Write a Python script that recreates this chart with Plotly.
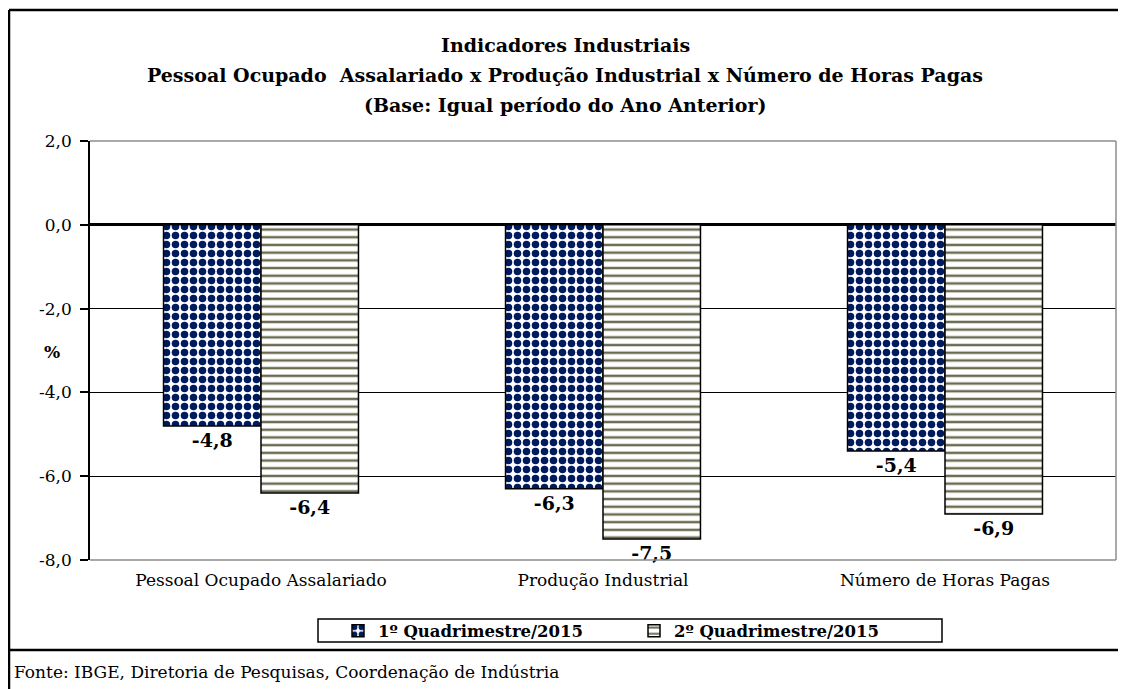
import plotly.graph_objects as go

CATEGORIES = ["Pessoal Ocupado Assalariado", "Produção Industrial", "Número de Horas Pagas"]
SERIES_NAMES = ["1º Quadrimestre/2015", "2º Quadrimestre/2015"]
Q1_VALUES = [-4.8, -6.3, -5.4]
Q2_VALUES = [-6.4, -7.5, -6.9]
Y_TICK_VALUES = [2, 0, -2, -4, -6, -8]
Y_TICK_LABELS = ["2,0", "0,0", "-2,0", "-4,0", "-6,0", "-8,0"]
TITLE_LINES = [
    "Indicadores Industriais",
    "Pessoal Ocupado  Assalariado x Produção Industrial x Número de Horas Pagas",
    "(Base: Igual período do Ano Anterior)",
]
Y_TITLE = "%"
SOURCE = "Fonte: IBGE, Diretoria de Pesquisas, Coordenação de Indústria"

SERIF = "DejaVu Serif"

# The page has an 8px body margin: page coords = figure coords + 8
OFF = 8
W, H = 1126 - OFF, 689 - OFF
# plot area in page coords
PL, PR, PT, PB = 90, 1116, 141, 560


def px(x):
    return (x - PL) / (PR - PL)


def py(y):
    return (PB - y) / (PB - PT)


def fmt(v):
    return f"{v:.1f}".replace(".", ",")


label_font = dict(family=SERIF, size=19, color="black", weight="bold")

fig = go.Figure()
fig.add_trace(go.Bar(
    x=CATEGORIES, y=Q1_VALUES, name=SERIES_NAMES[0],
    marker=dict(color="white", line=dict(color="black", width=1.5),
                pattern=dict(shape=".", fgcolor="#001a5e", bgcolor="white",
                             size=9, solidity=0.55, fillmode="replace")),
    text=[fmt(v) for v in Q1_VALUES], textposition="outside",
    textfont=label_font, cliponaxis=False,
))
fig.add_trace(go.Bar(
    x=CATEGORIES, y=Q2_VALUES, name=SERIES_NAMES[1],
    marker=dict(color="white", line=dict(color="black", width=1.5),
                pattern=dict(shape="-", fgcolor="#6b6b52", bgcolor="white",
                             size=7.7, solidity=0.32, fillmode="replace")),
    text=[fmt(v) for v in Q2_VALUES], textposition="outside",
    textfont=label_font, cliponaxis=False,
))

shapes = []
grey = "#8c8c8c"
# plot-area border (top, right, bottom)
for x0, y0, x1, y1 in [(0, 1, 1, 1), (1, 1, 1, 0), (0, 0, 1, 0)]:
    shapes.append(dict(type="line", xref="paper", yref="paper", x0=x0, y0=y0, x1=x1, y1=y1,
                       line=dict(color=grey, width=1.5), layer="above"))
# outer frame
frame = dict(color="black", width=2.5)
shapes.append(dict(type="line", xref="paper", yref="paper", x0=px(9), x1=px(1140), y0=py(10), y1=py(10), line=frame))
shapes.append(dict(type="line", xref="paper", yref="paper", x0=px(9), x1=px(9), y0=py(10), y1=py(700), line=frame))
shapes.append(dict(type="line", xref="paper", yref="paper", x0=px(9), x1=px(1140), y0=py(650), y1=py(650), line=frame))
# legend box
shapes.append(dict(type="rect", xref="paper", yref="paper", x0=px(318), x1=px(942), y0=py(619), y1=py(642),
                   line=dict(color="black", width=1.5)))

annotations = []
for i, line in enumerate(TITLE_LINES):
    annotations.append(dict(text=line, xref="paper", yref="paper", x=px(565), y=py(45 + 30 * i),
                            xanchor="center", yanchor="middle", showarrow=False,
                            font=dict(family=SERIF, size=19, color="black", weight="bold")))
annotations.append(dict(text=Y_TITLE, xref="paper", yref="paper", x=px(52), y=py(352),
                        xanchor="center", yanchor="middle", showarrow=False,
                        font=dict(family=SERIF, size=17, color="black", weight="bold")))
annotations.append(dict(text=SOURCE, xref="paper", yref="paper", x=px(12), y=py(672),
                        xanchor="left", yanchor="middle", showarrow=False,
                        font=dict(family=SERIF, size=17, color="black")))

fig.update_layout(
    width=W, height=H,
    margin=dict(l=PL - OFF, r=W - (PR - OFF), t=PT - OFF, b=H - (PB - OFF), pad=0),
    paper_bgcolor="white", plot_bgcolor="white",
    barmode="group", bargap=0.43, bargroupgap=0,
    showlegend=True,
    legend=dict(orientation="h", x=px(634), xanchor="center", y=py(631), yanchor="middle",
                bgcolor="rgba(0,0,0,0)", font=dict(family=SERIF, size=16.5, color="black", weight="bold"),
                entrywidth=251),
    xaxis=dict(type="category", range=[-0.5, 2.5], showline=False, ticks="", showgrid=False,
               ticklabelstandoff=8,
               tickfont=dict(family=SERIF, size=17, color="black")),
    xaxis2=dict(overlaying="x", anchor="free", position=0.8, range=[-0.5, 2.5],
                tickvals=[-0.5, 0.5, 1.5, 2.5], ticks="outside", ticklen=6, tickcolor="black",
                tickwidth=1.5, showticklabels=False, showgrid=False, zeroline=False, showline=False),
    yaxis=dict(range=[-8, 2], tickvals=Y_TICK_VALUES, ticktext=Y_TICK_LABELS,
               showgrid=True, gridcolor="black", gridwidth=1,
               zeroline=True, zerolinecolor="black", zerolinewidth=2.5,
               showline=True, linecolor="black", linewidth=1.5,
               ticks="outside", ticklen=8, tickcolor="black", tickwidth=1.5,
               ticklabelstandoff=5,
               tickfont=dict(family=SERIF, size=17, color="black")),
    shapes=shapes, annotations=annotations,
)

fig.write_html("out.html")
